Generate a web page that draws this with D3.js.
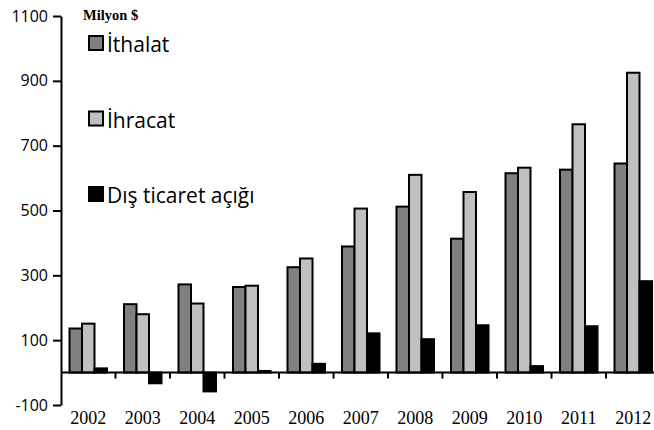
<!DOCTYPE html>
<html>
<head>
<meta charset="utf-8">
<script src="https://cdn.jsdelivr.net/npm/d3@7"></script>
<style>
  body { margin: 0; background: #fff; }
  svg { display: block; overflow: hidden; }
  .axis path, .axis line { stroke: #000; stroke-width: 2px; }
  .ylab text { font-family: "Open Sans", sans-serif; font-size: 16px; fill: #000; }
  .xlab text { font-family: "Liberation Serif", "Times New Roman", serif; font-size: 18px; fill: #000; }
</style>
</head>
<body>
<div id="chart"></div>
<script>
const years = ['2002', '2003', '2004', '2005', '2006', '2007', '2008', '2009', '2010', '2011', '2012']
const ithalat = [136, 211, 272, 264, 325, 389, 512, 413, 615, 626, 645]
const ihracat = [151, 180, 213, 268, 352, 506, 610, 557, 632, 766, 925]
const disTicaretAcigi = [13, -33, -58, 5, 27, 121, 103, 146, 20, 143, 282]
const seriesNames = ['İthalat', 'İhracat', 'Dış ticaret açığı']
const seriesColors = ['#808080', '#c0c0c0', '#000000']
const yTicks = [-100, 100, 300, 500, 700, 900, 1100]

const drawChart = () => {
  const width = 654
  const height = 430
  const left = 61
  const step = 54.5
  const top = 16
  const bottom = 405

  const svg = d3.select('#chart')
    .append('svg')
    .attr('width', width)
    .attr('height', height)

  // scales
  const x = d3.scaleBand()
    .domain(years)
    .range([left, left + step * years.length])
    .paddingInner(17 / 54.5)
    .paddingOuter(17 / 54.5 / 2)

  const xs = d3.scaleBand()
    .domain(seriesNames)
    .range([0, x.bandwidth()])

  const y = d3.scaleLinear()
    .domain([-100, 1100])
    .range([bottom, top])

  const seriesValues = [ithalat, ihracat, disTicaretAcigi]
  const rows = []
  years.forEach((yr, i) => {
    seriesNames.forEach((s, j) => {
      rows.push({ year: yr, series: s, value: seriesValues[j][i], color: seriesColors[j] })
    })
  })

  // bars
  svg.append('g')
    .selectAll('rect')
    .data(rows)
    .join('rect')
    .attr('x', d => x(d.year) + xs(d.series))
    .attr('y', d => y(Math.max(0, d.value)))
    .attr('width', xs.bandwidth())
    .attr('height', d => Math.abs(y(d.value) - y(0)))
    .attr('fill', d => d.color)
    .attr('stroke', '#000')
    .attr('stroke-width', 2)

  // y axis
  svg.append('g')
    .attr('class', 'axis ylab')
    .attr('transform', `translate(${left}, 0)`)
    .call(d3.axisLeft(y).tickValues(yTicks).tickFormat(d => String(d))
      .tickSize(8).tickSizeOuter(0).tickPadding(5))

  // x axis line at zero with ticks at category boundaries
  const pad = (x.step() - x.bandwidth()) / 2
  const bounds = years.map(d => x(d) - pad).concat([x(years[years.length - 1]) + x.bandwidth() + pad])
  const xa = svg.append('g').attr('class', 'axis')
  xa.append('line')
    .attr('x1', left).attr('x2', bounds[bounds.length - 1])
    .attr('y1', y(0)).attr('y2', y(0))
  xa.selectAll('.tk')
    .data(bounds.slice(1))
    .join('line')
    .attr('class', 'tk')
    .attr('x1', d => d).attr('x2', d => d)
    .attr('y1', y(0)).attr('y2', y(0) + 6)

  // year labels
  const xl = svg.append('g')
    .attr('class', 'xlab')
    .attr('transform', `translate(0, ${bottom})`)
    .call(d3.axisBottom(x).tickSize(0).tickPadding(6))
  xl.select('.domain').remove()

  // unit label
  svg.append('text')
    .attr('x', 83)
    .attr('y', 20)
    .attr('font-family', 'Liberation Serif, serif')
    .attr('font-weight', 'bold')
    .attr('font-size', 14.5)
    .text('Milyon $')

  // legend
  const legend = svg.append('g')
    .selectAll('g')
    .data(seriesNames)
    .join('g')
    .attr('transform', (d, i) => `translate(89, ${36 + i * 75.5})`)
  legend.append('rect')
    .attr('width', 14)
    .attr('height', 14)
    .attr('fill', (d, i) => seriesColors[i])
    .attr('stroke', '#000')
    .attr('stroke-width', 2)
  legend.append('text')
    .attr('x', 18)
    .attr('y', 16)
    .attr('font-family', 'Open Sans, sans-serif')
    .attr('font-size', 21)
    .text(d => d)
}

drawChart()
</script>
</body>
</html>
